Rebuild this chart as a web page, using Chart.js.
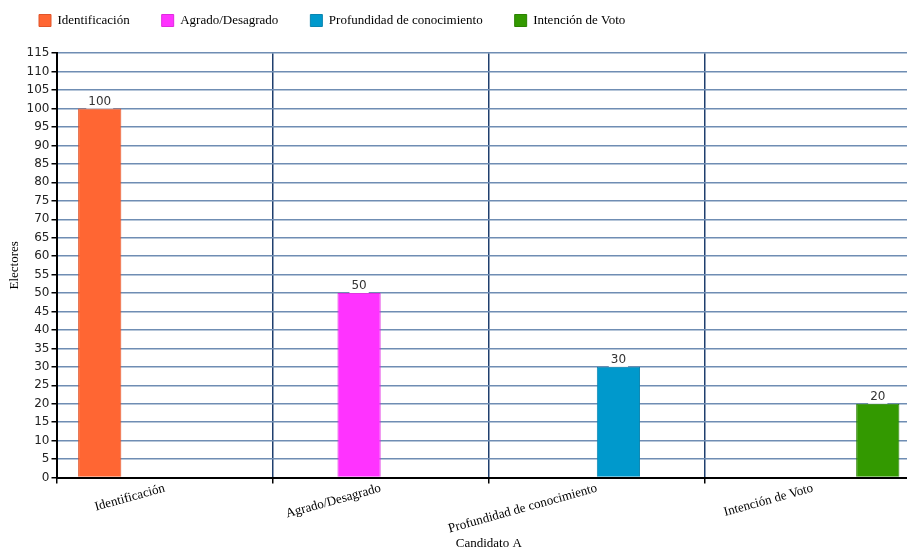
<!DOCTYPE html>
<html>
<head>
<meta charset="utf-8">
<script src="https://cdn.jsdelivr.net/npm/chart.js@4"></script>
<style>
  html, body { margin: 0; padding: 0; background: #fff; overflow: hidden; }
  #wrap { width: 921px; height: 551px; position: relative; }
</style>
</head>
<body>
<div id="wrap"><canvas id="myChart"></canvas></div>
<script>
const categories = ["Identificación", "Agrado/Desagrado", "Profundidad de conocimiento", "Intención de Voto"];
const identificacion = [100, null, null, null];
const agrado = [null, 50, null, null];
const profundidad = [null, null, 30, null];
const intencion = [null, null, null, 20];

const serif = "'Liberation Serif', 'DejaVu Serif', serif";
const sans = "'DejaVu Sans', Verdana, sans-serif";

// etiquetas de valor encima de cada barra
const valueLabels = {
  id: "valueLabels",
  afterDatasetsDraw(chart) {
    const ctx = chart.ctx;
    ctx.save();
    ctx.font = "12px " + sans;
    ctx.textAlign = "center";
    ctx.textBaseline = "bottom";
    chart.data.datasets.forEach((ds, i) => {
      const meta = chart.getDatasetMeta(i);
      meta.data.forEach((bar, j) => {
        const v = ds.data[j];
        if (v === null) return;
        const txt = String(v);
        const w = ctx.measureText(txt).width;
        ctx.fillStyle = "#fff";
        ctx.fillRect(bar.x - w / 2 - 2, bar.y - 15, w + 4, 15);
        ctx.fillStyle = "#333";
        ctx.fillText(txt, bar.x, bar.y - 1);
      });
    });
    ctx.restore();
  },
};

const makeSet = (label, data, color, border) => ({
  label: label,
  data: data,
  backgroundColor: color,
  borderColor: border,
  borderWidth: 1,
  barPercentage: 1.0,
  categoryPercentage: 0.8,
});

new Chart(document.getElementById("myChart"), {
  type: "bar",
  data: {
    labels: categories,
    datasets: [
      makeSet("Identificación", identificacion, "#FF6633", "#e0552b"),
      makeSet("Agrado/Desagrado", agrado, "#FF33FF", "#e02ae0"),
      makeSet("Profundidad de conocimiento", profundidad, "#0099CC", "#0a85b0"),
      makeSet("Intención de Voto", intencion, "#339900", "#2b8200"),
    ],
  },
  options: {
    responsive: true,
    maintainAspectRatio: false,
    animation: false,
    layout: { padding: { left: 7, right: 0, top: -18, bottom: 0 } },
    plugins: {
      legend: {
        position: "top",
        align: "start",
        labels: {
          boxWidth: 12,
          boxHeight: 12,
          padding: 32,
          color: "#000",
          font: { family: serif, size: 13 },
        },
      },
      // espacio vacío entre la leyenda y el gráfico
      title: {
        display: true,
        text: "",
        weight: 500,
        font: { size: 1 },
        padding: { top: 0, bottom: 15 },
      },
      tooltip: { enabled: false },
    },
    scales: {
      x: {
        grid: {
          display: true,
          offset: true,
          color: "#1f3f6e",
          lineWidth: 1.5,
          tickColor: "#000",
          tickLength: 6,
        },
        border: { color: "#000", width: 2 },
        ticks: {
          minRotation: 15.5,
          maxRotation: 15.5,
          padding: -3,
          color: "#000",
          font: { family: serif, size: 13 },
        },
        title: {
          display: true,
          text: "Candidato A",
          color: "#000",
          font: { family: serif, size: 13, lineHeight: 1.1 },
          padding: { top: 3, bottom: 0 },
        },
      },
      y: {
        min: 0,
        max: 115,
        grid: {
          color: "#6f8db3",
          lineWidth: 1.5,
          tickColor: "#000",
          tickLength: 5,
        },
        border: { color: "#000", width: 2 },
        ticks: {
          stepSize: 5,
          autoSkip: false,
          color: "#222",
          padding: 2,
          font: { family: sans, size: 12 },
        },
        title: {
          display: true,
          text: "Electores",
          color: "#000",
          font: { family: serif, size: 13 },
          padding: { top: 0, bottom: 2 },
        },
      },
    },
  },
  plugins: [valueLabels],
});
</script>
</body>
</html>
